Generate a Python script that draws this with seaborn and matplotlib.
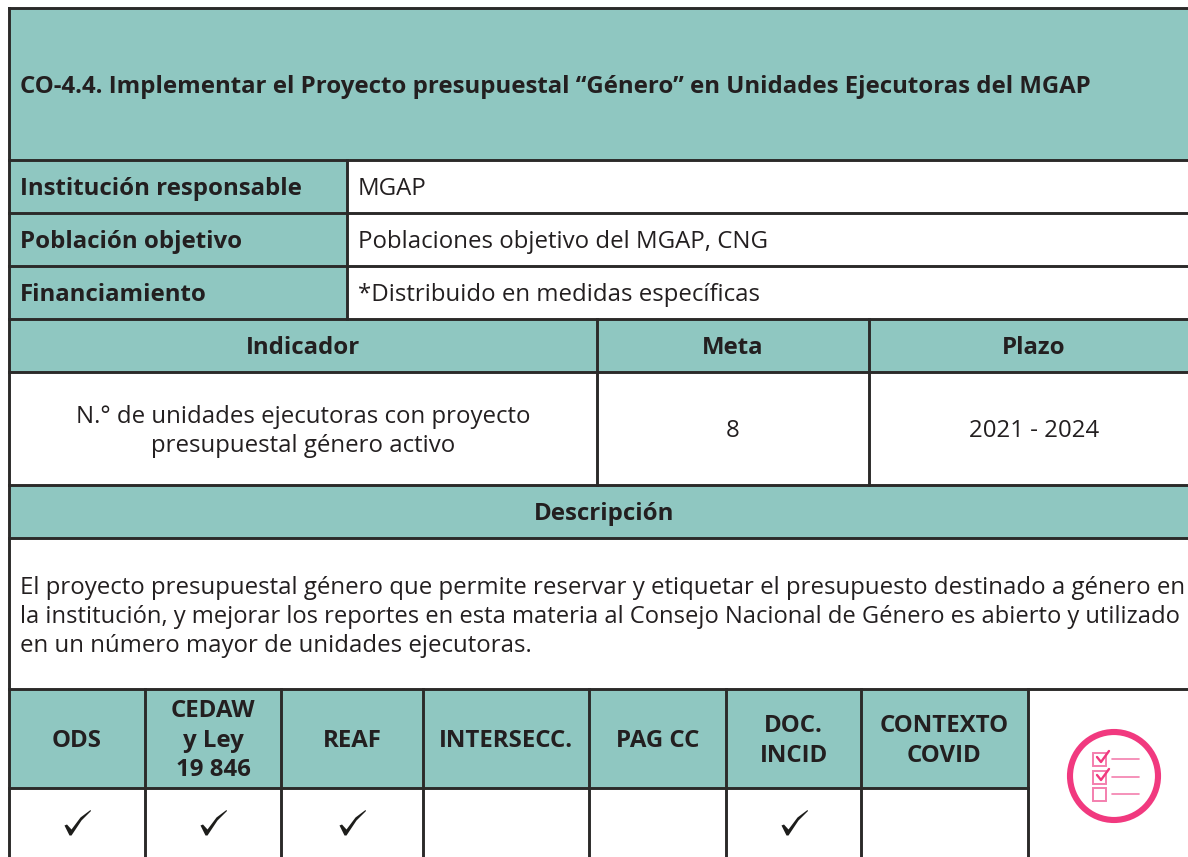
import matplotlib
matplotlib.use("Agg")
import matplotlib.pyplot as plt
import seaborn as sns
from matplotlib.patches import Rectangle, Circle
from matplotlib.path import Path

# ==========================================
# 1. Table content
# ==========================================
TITLE = "CO-4.4. Implementar el Proyecto presupuestal “Género” en Unidades Ejecutoras del MGAP"
INFO_LABELS = ["Institución responsable", "Población objetivo", "Financiamiento"]
INFO_VALUES = ["MGAP", "Poblaciones objetivo del MGAP, CNG", "*Distribuido en medidas específicas"]
INDICATOR_HEADERS = ["Indicador", "Meta", "Plazo"]
INDICATOR_TEXT = ["N.° de unidades ejecutoras con proyecto", "presupuestal género activo"]
META = "8"
PLAZO = "2021 - 2024"
DESC_HEADER = "Descripción"
DESC_LINES = [
    "El proyecto presupuestal género que permite reservar y etiquetar el presupuesto destinado a género en",
    "la institución, y mejorar los reportes en esta materia al Consejo Nacional de Género es abierto y utilizado",
    "en un número mayor de unidades ejecutoras.",
]
CHECK_HEADERS = [["ODS"], ["CEDAW", "y Ley", "19 846"], ["REAF"], ["INTERSECC."],
                 ["PAG CC"], ["DOC.", "INCID"], ["CONTEXTO", "COVID"]]
CHECKED = [True, True, True, False, False, True, False]

# ==========================================
# 2. Layout (pixels of the page)
# ==========================================
W, H = 1188, 857
PAGE_RIGHT = 1199  # the table goes on a bit past the crop
LEFT = 9
ROW_Y = [8, 160, 213, 266, 319, 372, 485, 538, 689, 788, H]
LABEL_X = 347
IND_X = [LEFT, 597, 869, PAGE_RIGHT]
CHECK_X = [LEFT, 145, 281, 423, 589, 726, 861, 1028]

TEAL = "#8fc7c1"
INK = "#2b2a29"
TXT = "#231f20"
PINK = "#f1397f"
PINK_LIGHT = "#f47fae"
LW = 2.1
FS_BOLD = 17.3
FS_BODY = 17.3
DESC_SIZES = [17.3, 17.12, 17.3]

CHECK_MARK = Path([(-13, -3), (-10.5, -2), (-6, -7), (3, 5), (13, 12.5), (13.5, 11.5),
                   (4, 2), (-6, -13), (-8, -13), (-13, -3)], closed=True)


def teal(ax, x0, y0, x1, y1):
    ax.add_patch(Rectangle((x0, y0), x1 - x0, y1 - y0, fc=TEAL, ec="none", zorder=1))


def hline(ax, y, x0=LEFT, x1=W):
    ax.plot([x0, x1], [y, y], color=INK, lw=LW, solid_capstyle="projecting", zorder=3)


def vline(ax, x, y0, y1):
    ax.plot([x, x], [y0, y1], color=INK, lw=LW, solid_capstyle="projecting", zorder=3)


def bold(ax, x, y, s, ha="center"):
    ax.text(x, y, s, ha=ha, va="baseline", fontsize=FS_BOLD, fontweight="bold", color=TXT, zorder=4)


def body(ax, x, y, s, ha="center", size=FS_BODY):
    ax.text(x, y, s, ha=ha, va="baseline", fontsize=size, color=TXT, zorder=4)


def main():
    sns.set_theme(style="white")
    plt.rcParams["font.family"] = ["Open Sans", "DejaVu Sans"]

    fig = plt.figure(figsize=(W / 100, H / 100), dpi=100, facecolor="white")
    ax = fig.add_axes([0, 0, 1, 1])

    # teal fills
    teal(ax, LEFT, ROW_Y[0], W, ROW_Y[1])
    teal(ax, LEFT, ROW_Y[1], LABEL_X, ROW_Y[4])
    teal(ax, LEFT, ROW_Y[4], W, ROW_Y[5])
    teal(ax, LEFT, ROW_Y[6], W, ROW_Y[7])
    teal(ax, LEFT, ROW_Y[8], CHECK_X[-1], ROW_Y[9])

    # grid lines
    for y in ROW_Y[:9]:
        hline(ax, y)
    hline(ax, ROW_Y[9], LEFT, CHECK_X[-1])
    vline(ax, LEFT, ROW_Y[0], H)
    vline(ax, LABEL_X, ROW_Y[1], ROW_Y[4])
    for x in IND_X[1:3]:
        vline(ax, x, ROW_Y[4], ROW_Y[6])
    for x in CHECK_X[1:]:
        vline(ax, x, ROW_Y[8], H)

    # texts
    bold(ax, 20, 93, TITLE, ha="left")
    for i in range(3):
        base = ROW_Y[i + 1] + 35
        bold(ax, 20, base, INFO_LABELS[i], ha="left")
        body(ax, 358, base, INFO_VALUES[i], ha="left")
    for i, h in enumerate(INDICATOR_HEADERS):
        bold(ax, (IND_X[i] + IND_X[i + 1]) / 2, ROW_Y[4] + 35, h)
    mid_ind = (IND_X[0] + IND_X[1]) / 2
    body(ax, mid_ind, 423, INDICATOR_TEXT[0])
    body(ax, mid_ind, 452, INDICATOR_TEXT[1])
    body(ax, (IND_X[1] + IND_X[2]) / 2, 437, META)
    body(ax, (IND_X[2] + IND_X[3]) / 2, 437, PLAZO)
    bold(ax, (LEFT + PAGE_RIGHT) / 2, 520, DESC_HEADER)
    for i, line in enumerate(DESC_LINES):
        body(ax, 20, 594 + i * 29, line, ha="left", size=DESC_SIZES[i])

    centers = [(CHECK_X[i] + CHECK_X[i + 1]) / 2 for i in range(len(CHECK_HEADERS))]
    for cx, lines in zip(centers, CHECK_HEADERS):
        first = 747 - (len(lines) - 1) * 14.9
        for j, line in enumerate(lines):
            bold(ax, cx, first + j * 29.5, line)

    # check marks of the last row
    xs = [c for c, on in zip(centers, CHECKED) if on]
    sns.scatterplot(x=xs, y=[822] * len(xs), marker=CHECK_MARK, s=378, color="#1d1d1b",
                    linewidth=0, ax=ax, zorder=4, legend=False)

    # checklist icon
    ax.add_patch(Circle((1114, 776), 44, fc="white", ec=PINK, lw=4.4, zorder=4))
    for by, ly, tick in [(753, 759, True), (771, 777, True), (788, 794, False)]:
        ax.add_patch(Rectangle((1093, by), 13, 13, fc="none", ec=PINK_LIGHT, lw=1.4, zorder=5))
        ax.plot([1112, 1139], [ly, ly], color=PINK_LIGHT, lw=1.2, zorder=5)
        if tick:
            ax.plot([1097, 1101, 1109], [by + 4, by + 9, by - 2], color=PINK, lw=1.7, zorder=6)

    ax.set_xlim(0, W)
    ax.set_ylim(H, 0)
    ax.axis("off")
    fig.savefig("out.png", dpi=100, facecolor="white")


if __name__ == "__main__":
    main()
